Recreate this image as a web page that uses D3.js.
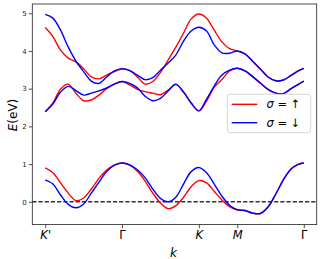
<!DOCTYPE html>
<html><head><meta charset="utf-8">
<script src="https://cdn.jsdelivr.net/npm/d3@7"></script>
<style>body{margin:0;background:#fff}svg{display:block}text{font-family:"DejaVu Sans",sans-serif}</style>
</head><body><div id="c"></div>
<script>
const kGrid = [0,0.1,0.2,0.3,0.4,0.5,0.6,0.7,0.8,0.9,1.0,1.1,1.2,1.3,1.4,1.5,1.6,1.7,1.8,1.9,2.0,2.1,2.2,2.3,2.4,2.5,2.6,2.7,2.8,2.9,3.0,3.1,3.2,3.3,3.366];
const tickPos = [0,1,2,2.5,3.366];
const tickLabels = ["K'","Γ","K","M","Γ"];
const yTicks = [0,1,2,3,4,5];
// spin up
const up3 = [4.62,4.38,4.02,3.81,3.71,3.53,3.31,3.26,3.36,3.45,3.52,3.48,3.31,3.12,3.19,3.43,3.76,4.10,4.47,4.85,4.98,4.87,4.55,4.24,4.06,4.00,3.92,3.73,3.52,3.31,3.21,3.23,3.35,3.48,3.54];
const up2 = [2.39,2.62,2.99,3.12,2.88,2.68,2.70,2.83,3.00,3.12,3.19,3.10,2.98,2.92,2.88,2.84,2.96,3.11,2.91,2.62,2.41,2.67,3.04,3.24,3.47,3.54,3.47,3.32,3.15,2.98,2.88,2.87,3.00,3.12,3.20];
const up1 = [0.90,0.77,0.50,0.23,0.03,0.10,0.34,0.62,0.84,0.97,1.03,0.97,0.81,0.55,0.23,-0.03,-0.18,-0.10,0.12,0.40,0.56,0.50,0.28,0.05,-0.13,-0.22,-0.23,-0.30,-0.31,-0.14,0.20,0.58,0.87,1.00,1.03];
// spin down
const dn3 = [4.97,4.87,4.55,4.10,3.73,3.45,3.20,3.14,3.31,3.47,3.53,3.48,3.36,3.24,3.29,3.49,3.68,3.89,4.26,4.53,4.63,4.53,4.16,3.95,3.94,4.00,3.92,3.73,3.52,3.31,3.21,3.23,3.35,3.48,3.54];
const dn2 = [2.39,2.59,2.91,3.06,2.95,2.83,2.88,2.94,3.02,3.12,3.19,3.14,3.02,2.80,2.68,2.74,2.94,3.12,2.91,2.62,2.41,2.72,3.07,3.36,3.49,3.54,3.47,3.32,3.15,2.98,2.88,2.87,3.00,3.12,3.20];
const dn1 = [0.58,0.47,0.18,-0.07,-0.16,-0.06,0.23,0.52,0.80,0.97,1.03,0.98,0.85,0.64,0.34,0.09,0.00,0.12,0.47,0.80,0.91,0.77,0.47,0.15,-0.09,-0.21,-0.23,-0.30,-0.31,-0.14,0.20,0.58,0.87,1.00,1.03];
const legendLabels = ["σ = ↑","σ = ↓"];

const W=332,H=259;
const L=32.3,R=316.7,T=4,B=224.6;
const svg=d3.select("#c").append("svg").attr("width",W).attr("height",H);
const x=d3.scaleLinear().domain([-0.168,3.534]).range([L,R]);
const y=d3.scaleLinear().domain([-0.605,5.245]).range([B,T]);

const line=d3.line().x((d,i)=>x(kGrid[i])).y(d=>y(d)).curve(d3.curveCatmullRom.alpha(0.5));
const g=svg.append("g");
g.append("line").attr("x1",L).attr("x2",R).attr("y1",y(0)).attr("y2",y(0))
 .attr("stroke","#333").attr("stroke-width",1.5).attr("stroke-dasharray","4.2,2");
[up1,up2,up3].forEach(s=>g.append("path").attr("d",line(s)).attr("fill","none").attr("stroke","#ff0000").attr("stroke-width",1.4));
[dn1,dn2,dn3].forEach(s=>g.append("path").attr("d",line(s)).attr("fill","none").attr("stroke","#0000ff").attr("stroke-width",1.4));

const yAxis=d3.axisLeft(y).tickValues(yTicks).tickSize(3.5).tickPadding(2).tickFormat(d3.format("d"));
const ya=svg.append("g").attr("transform",`translate(${L},0)`).call(yAxis);
ya.select(".domain").remove();
ya.selectAll("text").attr("font-size",7).attr("font-family","DejaVu Sans").attr("fill","#222");
ya.selectAll("line").attr("stroke","#222").attr("stroke-width",0.8);
const xAxis=d3.axisBottom(x).tickValues(tickPos).tickSize(3.5).tickPadding(2.5).tickFormat((d,i)=>tickLabels[i]);
const xa=svg.append("g").attr("transform",`translate(0,${B})`).call(xAxis);
xa.select(".domain").remove();
xa.selectAll("text").attr("font-size",11.5).attr("font-family","DejaVu Sans")
  .attr("font-style",(d,i)=>tickLabels[i]==="Γ"?"normal":"italic").attr("fill","#000");
xa.selectAll("line").attr("stroke","#222").attr("stroke-width",0.8);
svg.append("rect").attr("x",L).attr("y",T).attr("width",R-L).attr("height",B-T)
 .attr("fill","none").attr("stroke","#222").attr("stroke-width",0.8);

svg.append("text").attr("x",173.5).attr("y",257).attr("text-anchor","middle")
 .attr("font-size",12).attr("font-style","italic").text("k");
svg.append("text").attr("transform","translate(17,115) rotate(-90)").attr("text-anchor","middle")
 .attr("font-size",12).html('<tspan font-style="italic">E</tspan>(eV)');

const lg=svg.append("g");
lg.append("rect").attr("x",227.3).attr("y",94.3).attr("width",83.4).attr("height",38.4).attr("rx",2.5)
 .attr("fill","#fff").attr("fill-opacity",0.85).attr("stroke","#ccc").attr("stroke-width",0.8);
const cols=["#ff0000","#0000ff"];
legendLabels.forEach((t,i)=>{
  const yy=104.3+i*18.4;
  lg.append("line").attr("x1",231.7).attr("x2",257.3).attr("y1",yy).attr("y2",yy).attr("stroke",cols[i]).attr("stroke-width",1.4);
  const tx=lg.append("text").attr("x",266.5).attr("y",yy+4).attr("font-size",11.5);
  tx.append("tspan").attr("font-style","italic").text(t.slice(0,1));
  tx.append("tspan").text(t.slice(1));
});
</script></body></html>
